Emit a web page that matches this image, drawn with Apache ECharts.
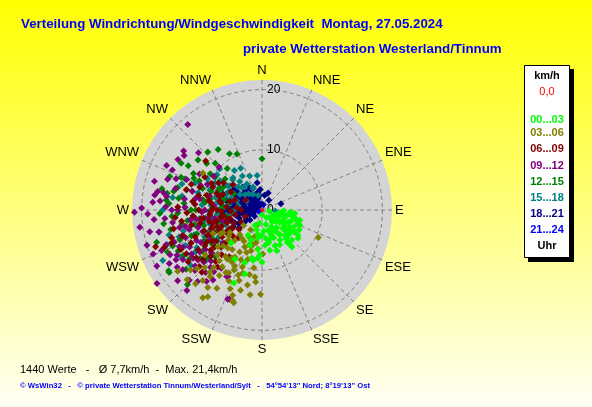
<!DOCTYPE html>
<html>
<head>
<meta charset="utf-8">
<script src="https://cdn.jsdelivr.net/npm/echarts@6/dist/echarts.min.js"></script>
<style>
html,body{margin:0;padding:0;}
#chart{width:592px;height:407px;}
</style>
</head>
<body>
<div id="chart"></div>
<script>
// ---- data: [speed km/h, direction deg] ----
const dirLabels = ['N','NNE','NE','ENE','E','ESE','SE','SSE','S','SSW','SW','WSW','W','WNW','NW','NNW'];
const radiusTicks = [0, 10, 20];
const hourGroups = ['00...03','03...06','06...09','09...12','12...15','15...18','18...21','21...24'];
const groupColors = ['#00ff00','#808000','#800000','#800080','#008000','#008080','#000080','#0000ff'];

const h00 = [[0.8,180],[1.5,150],[2.0,120],[2.3,111],[2.8,100],[3.3,97],[3.9,102],[4.5,99],[5.0,101],[5.7,104],[6.2,108],[6.8,112],[3.0,130],[3.6,125],[4.2,118],[4.8,115],[5.4,121],[6.0,117],[6.5,124],[7.3,125],[7.6,128],[5.7,125],[4.6,132],[3.8,140],[4.4,146],[5.1,144],[5.8,149],[6.5,153],[6.8,142],[7.5,141],[7.9,141],[7.0,135],[2.5,165],[3.5,163],[4.2,180],[4.8,172],[5.5,168],[5.9,175],[6.8,169],[7.2,160],[2.8,205],[3.4,195],[4.1,190],[4.7,188],[4.8,209],[5.3,200],[6.2,199],[6.6,186],[7.5,183],[8.0,185],[8.2,192],[8.5,190],[8.7,180],[9.2,198],[9.3,209],[7.5,223],[13.0,201],[11.0,195],[3.0,110],[1.8,135],[2.2,190],[6.0,133],[5.2,110],[4.0,108],[3.2,150],[6.3,160],[7.0,118],[5.0,157],[4.3,160],[1.2,100],[4.7,94],[5.5,96],[3.6,92],[6.5,105],[2.6,140],[5.6,138],[6.1,127],[3.8,118],[4.5,125],[5.2,130],[6.2,140],[2.8,125],[4.0,150],[5.0,165],[3.5,175]];
const h03 = [[2.6,198],[4.5,195],[5.0,205],[5.5,190],[6.0,210],[7.3,179],[7.9,208],[8.5,196],[9.4,212],[10.0,199],[10.4,206],[10.9,191],[11.0,197],[11.5,215],[12.0,185],[12.7,191],[13.0,205],[13.5,220],[14.0,181],[14.1,202],[14.2,188],[15.0,199],[15.0,210],[15.3,220],[15.7,215],[15.8,198],[16.1,197],[17.0,212],[17.3,234],[17.0,227],[17.6,214],[10.4,116],[6.5,186],[7.0,195],[8.0,185],[9.0,203],[11.8,208],[12.3,198],[6.8,222],[8.8,227],[10.5,225],[13.0,213],[5.8,215],[9.7,188],[11.2,186],[4.0,230],[7.5,240],[12.0,232],[11.6,302],[3.8,210],[8.2,217],[9.8,218],[6.2,200],[5.2,200],[6.0,195],[6.8,205],[7.5,200],[8.2,192],[9.0,210],[10.0,215],[11.0,205],[12.0,210],[8.5,222],[9.5,230],[7.0,232],[5.5,222],[11.5,200],[13.8,195],[12.5,220],[13.5,225],[14.5,228],[15.5,230],[11.0,220],[10.0,210],[16.5,222],[14.0,218],[8.0,240],[9.0,245],[6.5,235],[7.5,228]];
const h06 = [[12.4,311],[9.5,298],[11.0,290],[8.0,290],[5.9,275],[6.4,311],[8.5,302],[11.6,277],[8.7,265],[8.9,250],[7.8,244],[15.7,253],[17.4,249],[6.2,250],[6.6,234],[8.5,255],[14.4,224],[18.7,251],[4.5,260],[5.2,245],[7.0,260],[9.8,262],[10.5,270],[12.0,258],[13.0,245],[11.2,238],[10.0,232],[9.2,228],[7.5,225],[6.0,220],[4.0,240],[3.5,270],[5.5,285],[7.2,282],[9.0,280],[10.8,283],[12.5,268],[13.5,262],[14.5,240],[12.8,230],[11.5,222],[8.0,236],[6.8,268],[9.5,245],[10.2,250],[4.8,290],[3.2,300],[7.8,305],[6.0,300],[11.0,300],[8.2,272],[13.8,252],[10.6,240],[5.0,230],[3.0,250],[15.0,235],[5.5,255],[6.5,262],[7.5,270],[8.5,278],[9.5,285],[10.5,258],[11.5,265],[6.2,240],[7.2,248],[8.2,228],[9.2,236],[10.2,262],[11.2,275],[4.2,275],[5.2,268],[7.0,292],[8.8,245],[9.8,238],[6.5,228],[12.0,248],[5.8,238],[7.8,256],[10.8,232],[6.9,280],[12.5,238],[13.5,234],[14.0,228],[11.5,228],[12.0,218],[10.0,222],[15.0,244],[16.0,250],[9.5,215],[14.0,272],[15.0,258],[13.0,285],[12.5,290],[14.5,265],[6.0,255],[7.0,238],[8.0,250],[9.0,258],[10.0,245],[8.5,268],[7.5,288],[9.0,295]];
const h09 = [[18.8,319],[16.3,307],[14.2,312],[16.3,301],[15.8,305],[16.3,294],[10.1,315],[17.6,280],[16.6,280],[18.2,274],[20.0,271],[21.2,269],[19.8,242],[21.3,235],[18.3,223],[19.0,259],[20.0,253],[18.3,230],[15.8,200],[15.9,201],[12.4,207],[12.5,208],[8.0,260],[9.5,270],[11.0,262],[12.5,255],[13.5,250],[14.5,245],[15.5,238],[16.5,233],[17.0,244],[15.0,262],[14.0,270],[13.0,278],[12.0,285],[11.0,292],[10.5,280],[9.0,250],[10.0,240],[11.5,235],[13.0,228],[14.0,222],[15.0,218],[16.8,226],[17.5,258],[18.0,265],[16.0,272],[14.8,284],[13.5,292],[17.0,250],[12.0,245],[7.5,240],[6.8,255],[8.5,230],[19.5,248],[20.5,262],[18.5,285],[12.0,300],[9.8,305],[15.2,290],[11.8,215],[10.5,225],[13.8,238],[9.0,262],[10.0,268],[11.0,255],[12.0,262],[13.0,258],[14.0,252],[9.5,245],[10.5,250],[11.5,242],[12.5,236],[13.5,232],[14.5,230],[15.5,250],[16.0,242],[8.0,275],[9.0,285],[10.0,295],[14.0,258],[12.8,272],[11.2,280],[15.0,270],[16.2,265],[17.0,236],[13.0,218],[14.0,235],[15.0,228],[16.0,222],[12.0,225],[11.0,230],[13.5,243],[16.5,240],[15.0,246],[17.8,240],[18.0,248],[14.2,215],[12.8,222],[17.0,275],[18.0,278],[16.5,288],[17.5,295],[19.0,268],[16.0,278]];
const h12 = [[10.2,336],[8.5,0],[12.4,324],[13.2,317],[14.3,301],[12.9,298],[16.3,290],[16.0,280],[15.5,274],[18.3,253],[18.6,236],[17.5,225],[18.5,237],[9.0,320],[8.0,310],[10.5,305],[11.5,295],[12.0,285],[13.0,275],[14.0,268],[12.5,262],[11.0,270],[10.0,280],[9.0,290],[7.5,300],[6.5,285],[7.0,270],[8.5,262],[10.0,255],[11.5,250],[13.0,245],[14.5,250],[15.5,258],[16.5,262],[14.5,285],[13.5,308],[11.0,315],[15.0,240],[12.0,235],[9.5,240],[6.0,260],[5.5,300],[16.0,248],[17.0,268],[8.0,245],[13.8,292],[10.8,330],[12.0,310],[7.5,255],[8.5,270],[9.5,278],[10.5,262],[11.5,258],[12.5,250],[13.5,260],[9.0,248],[10.0,235],[11.0,242],[7.0,285],[8.0,295],[9.5,305],[10.5,290],[12.5,295],[14.0,278],[15.0,266],[6.5,275],[8.8,282],[11.8,270],[13.0,232],[14.5,236],[16.0,232],[12.0,228],[15.5,244],[13.8,252],[17.2,246],[11.0,225],[15.0,282],[16.0,276],[14.5,292],[17.0,282],[15.5,300],[13.0,285]];
const h15 = [[4.1,339],[7.0,316],[9.8,314],[9.5,308],[10.0,296],[6.3,299],[4.8,323],[7.2,318],[6.7,307],[5.5,314],[4.0,338],[2.2,94],[9.3,291],[18.5,243],[3.5,320],[5.0,330],[6.0,340],[8.0,325],[8.5,305],[7.5,295],[5.5,290],[4.5,305],[3.0,330],[6.5,330],[9.0,300],[8.0,285],[10.0,275],[11.5,265],[12.0,250],[10.5,245],[9.0,255],[7.5,265],[6.0,275],[13.5,255],[14.5,265],[12.5,240],[11.0,228],[9.0,235],[7.0,250],[5.0,265],[4.0,280],[3.0,300],[2.5,345],[11.0,285],[12.8,272],[8.8,268],[16.0,255],[15.0,232],[6.5,240],[10.5,300],[7.8,333],[5.8,352],[5.5,300],[6.5,292],[7.5,280],[8.5,275],[9.5,262],[6.0,262],[7.0,255],[8.0,258],[9.5,248],[4.5,290],[5.0,318],[6.0,322],[7.0,305],[8.0,298],[3.8,312],[4.5,270],[10.0,258],[11.0,255],[12.0,262],[5.5,280],[13.0,238],[14.0,245],[15.5,240],[12.5,228],[16.8,250],[14.5,252],[11.5,236],[17.5,258],[13.5,280],[15.0,278],[14.0,288],[12.0,292],[16.5,270],[6.5,248],[7.5,242],[8.5,238],[9.0,228],[10.0,238],[7.0,272],[8.0,290]];
const h18 = [[4.0,315],[2.5,332],[3.7,275],[5.0,264],[4.8,306],[3.3,72],[1.0,300],[1.5,280],[2.0,300],[2.5,310],[3.0,290],[3.5,300],[4.0,285],[4.5,295],[5.0,280],[5.5,290],[6.0,275],[2.0,260],[3.0,255],[4.0,250],[5.0,245],[1.5,320],[2.0,340],[3.0,345],[3.5,320],[4.5,330],[5.5,310],[6.0,300],[1.0,355],[2.5,10],[3.0,20],[2.0,35],[1.5,250],[4.2,262],[5.8,258],[6.5,268],[6.2,285],[3.2,270],[2.8,280],[4.8,270],[5.2,300],[3.8,308],[2.2,315],[1.2,270],[6.8,290],[3.5,235],[4.5,240],[2.6,230],[0.8,330],[3.9,338],[4.6,350],[1.8,290],[2.2,275],[2.8,265],[3.2,285],[3.6,295],[4.2,300],[4.8,290],[5.2,275],[2.6,320],[3.0,305],[3.4,312],[3.8,325],[4.4,318],[5.0,320],[2.0,285],[1.4,310],[2.4,350],[3.4,355],[4.0,270],[4.6,280],[5.6,268],[3.0,240],[2.2,250],[1.6,230],[4.4,258],[5.4,252],[6.2,262],[3.6,262],[6.0,285],[6.5,295],[5.8,305],[6.4,250],[5.5,240],[4.8,232],[7.0,280]];
const h21 = [[1.0,290],[1.5,310],[2.0,270],[2.5,300],[1.2,340],[0.6,250],[1.8,285],[2.2,320],[0.9,15],[1.4,260]];
const calm = [[0,0]];

const groupData = [h00,h03,h06,h09,h12,h15,h18,h21];

const titleMain = 'Verteilung Windrichtung/Windgeschwindigkeit  Montag, 27.05.2024';
const titleSub = 'private Wetterstation Westerland/Tinnum';
const statLine = '1440 Werte   -   Ø 7,7km/h  -  Max. 21,4km/h';
const footLine = '© WsWin32   -   © private Wetterstation Tinnum/Westerland/Sylt   -   54°54\'13\'\' Nord; 8°19\'13\'\' Ost';

const FONT = '"Liberation Sans", Arial, sans-serif';

const chart = echarts.init(document.getElementById('chart'), null, {renderer:'canvas'});

// series drawn latest hours first so earliest hours end on top
const series = [];
for (let i = groupData.length - 1; i >= 0; i--) {
  series.push({
    name: hourGroups[i],
    type: 'scatter',
    coordinateSystem: 'polar',
    polarIndex: 1,
    symbol: 'diamond',
    symbolSize: 7,
    data: groupData[i].map(p => [p[0], p[1]]),
    itemStyle: {color: groupColors[i], opacity: 1},
    emphasis: {disabled: true},
    silent: true,
    z: 3
  });
}
series.push({
  name: 'calm', type: 'scatter', coordinateSystem: 'polar', polarIndex: 1, symbol: 'diamond', symbolSize: 5,
  data: calm, itemStyle: {color: '#ff0000'}, silent: true, z: 3
});

const legendTexts = [{t:'km/h', c:'#000000', b:'bold', y:76},{t:'0,0', c:'#ff0000', b:'normal', y:92}];
const legendY = [120,133,149,166,182,198,214,230];
hourGroups.forEach((g,i)=>legendTexts.push({t:g, c:groupColors[i], b:'bold', y:legendY[i]}));
legendTexts.push({t:'Uhr', c:'#000000', b:'bold', y:246});

const graphics = [
  {type:'rect', z:-10, silent:true, shape:{x:0,y:0,width:592,height:407},
   style:{fill:new echarts.graphic.LinearGradient(0,0,0,1,[{offset:0,color:'#ffff00'},{offset:1,color:'#fffff4'}])}},
  {type:'rect', z:10, silent:true, shape:{x:528,y:69,width:46,height:193}, style:{fill:'#000000'}},
  {type:'rect', z:11, silent:true, shape:{x:524.5,y:65.5,width:45,height:192}, style:{fill:'#ffffff', stroke:'#000000', lineWidth:1}}
];
legendTexts.forEach(l=>graphics.push({
  type:'text', z:12, silent:true, x:547, y:l.y,
  style:{text:l.t, fill:l.c, font: l.b + ' 11px ' + FONT, align:'center', verticalAlign:'middle'}
}));
graphics.push({type:'text', z:12, silent:true, x:20, y:370,
  style:{text:statLine, fill:'#000000', font:'11px ' + FONT, align:'left', verticalAlign:'middle'}});
graphics.push({type:'text', z:12, silent:true, x:20, y:386,
  style:{text:footLine, fill:'#0000ff', font:'bold 7.7px ' + FONT, align:'left', verticalAlign:'middle'}});
graphics.push({type:'text', z:12, silent:true, x:21, y:24,
  style:{text:titleMain, fill:'#0000ff', font:'bold 13.3px ' + FONT, align:'left', verticalAlign:'middle'}});
graphics.push({type:'text', z:12, silent:true, x:243, y:49,
  style:{text:titleSub, fill:'#0000ff', font:'bold 13.3px ' + FONT, align:'left', verticalAlign:'middle'}});

const option = {
  animation: false,
  polar: [{center: [262, 210], radius: 130}, {center: [262, 210], radius: 130}],
  angleAxis: [{
    polarIndex: 0, z: 0,
    type: 'value', min: 0, max: 360, interval: 22.5, startAngle: 90, clockwise: true,
    axisLine: {show: false}, axisTick: {show: false}, axisLabel: {show: false},
    splitLine: {show: false},
    splitArea: {show: true, areaStyle: {color: ['#d4d4d4']}}
  }, {
    polarIndex: 1, z: 1,
    type: 'value', min: 0, max: 360, interval: 22.5, startAngle: 90, clockwise: true,
    axisLine: {show: false}, axisTick: {show: false},
    axisLabel: {
      show: true, margin: 3, color: '#000000', fontSize: 13, fontFamily: FONT,
      formatter: v => { const i = Math.round(v / 22.5); return i < 16 ? dirLabels[i] : ''; }
    },
    splitLine: {show: true, lineStyle: {color: '#808080', type: [4,3], width: 1}},
    splitArea: {show: false}
  }],
  radiusAxis: [{
    polarIndex: 0, z: 0,
    type: 'value', min: 0, max: 21.6, interval: 10,
    axisLine: {show: false}, axisTick: {show: false}, axisLabel: {show: false},
    splitLine: {show: false}, splitArea: {show: false}
  }, {
    polarIndex: 1, z: 1,
    type: 'value', min: 0, max: 21.6, interval: 10,
    axisLine: {show: false}, axisTick: {show: false},
    axisLabel: {
      show: true, margin: -5, align: 'left', color: '#000000', fontSize: 12, fontFamily: FONT,
      formatter: v => radiusTicks.indexOf(v) >= 0 ? String(v) : ''
    },
    splitLine: {show: true, lineStyle: {color: ['#808080','#808080','#808080','rgba(0,0,0,0)'], type: [4,3], width: 1}},
    splitArea: {show: false}
  }],
  graphic: graphics,
  series: series
};
chart.setOption(option);
</script>
</body>
</html>
